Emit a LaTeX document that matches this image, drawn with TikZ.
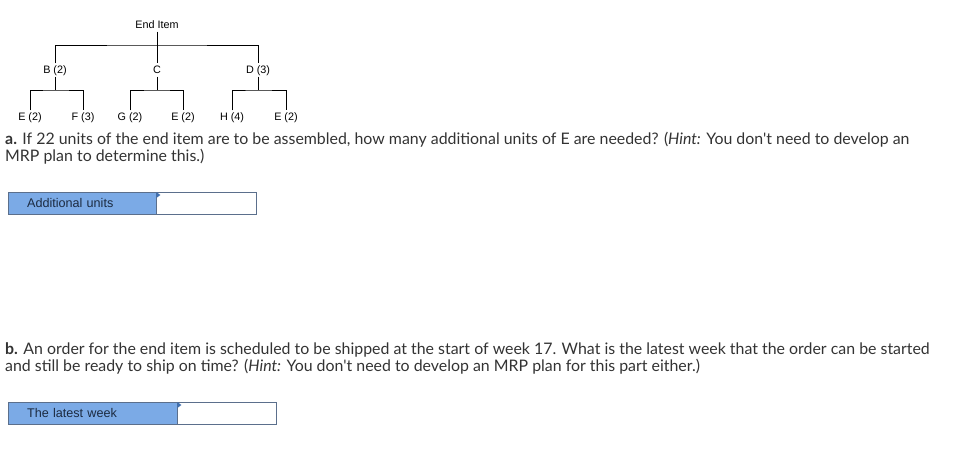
\documentclass[tikz,border=0pt]{standalone}
\usepackage{fontspec}
\setmainfont{Liberation Sans}
\newfontfamily\qfont{Lato}
\usepackage{xcolor}
\usetikzlibrary{positioning}
\definecolor{qgray}{HTML}{333333}
\definecolor{lblblue}{HTML}{7BAAE6}
\definecolor{boxline}{HTML}{5B6F8C}
\definecolor{lbltext}{HTML}{1C2B41}
\definecolor{markblue}{HTML}{3F6FB0}

\tikzset{
	part/.style={inner sep=1.5pt,text height=8pt,text depth=2pt,font=\fontsize{10.8}{12}\selectfont},
	question/.style={anchor=base west,inner sep=0pt,text=qgray,font=\qfont\fontsize{15.9}{17}\selectfont},
	fieldlbl/.style={draw=boxline,fill=lblblue,text=lbltext,anchor=north west,minimum height=22pt,inner xsep=19pt,inner ysep=0pt,align=left,font=\fontsize{12.6}{14}\selectfont},
	fieldans/.style={draw=boxline,fill=white,anchor=west,minimum height=22pt,inner sep=0pt}
}

\begin{document}
\begin{tikzpicture}[x=1pt,y=-1pt]
		\useasboundingbox (0,0) rectangle (964,463);
		% product structure tree
		\node[part] (end) at (157,25) {End Item};
			\coordinate (top) at (157,45);
		\node[part] (b) at (55,70) {B (2)};
		\node[part] (c) at (157,70) {C};
		\node[part] (d) at (258,70) {D (3)};
		\draw (end) -- (top);
		\draw (b.north) |- (top) -| (d.north);
		\draw (top) -- (c.north);
			\coordinate (bbar) at (55,90);
			\coordinate (cbar) at (157,90);
			\coordinate (dbar) at (258,90);
		\node[part] (e1) at (30,117) {E (2)};
		\node[part] (f) at (83,117) {F (3)};
		\node[part] (g) at (130,117) {G (2)};
		\node[part] (e2) at (183,117) {E (2)};
		\node[part] (h) at (232,117) {H (4)};
		\node[part] (e3) at (286,117) {E (2)};
		\draw (b) -- (bbar);
		\draw (e1.north) |- (bbar) -| (f.north);
		\draw (c) -- (cbar);
		\draw (g.north) |- (cbar) -| (e2.north);
		\draw (d) -- (dbar);
		\draw (h.north) |- (dbar) -| (e3.north);
		% part a
		\node[question] (qa1) at (5,144) {\textbf{a.} If 22 units of the end item are to be assembled, how many additional units of E are needed? (\textit{Hint:} You don't need to develop an};
		\node[question] (qa2) at (5,161) {MRP plan to determine this.)};
		\node[fieldlbl,text width=110pt] (addlbl) at (8,192) {Additional units};
		\node[fieldans,minimum width=100pt] (addans) at (addlbl.east) {};
			\fill[markblue] (addans.north west) -- ++(4,3) -- ++(-4,3) -- cycle;
		% part b
		\node[question] (qb1) at (5,354) {\textbf{b.} An order for the end item is scheduled to be shipped at the start of week 17. What is the latest week that the order can be started};
		\node[question] (qb2) at (5,371) {and still be ready to ship on time? (\textit{Hint:} You don't need to develop an MRP plan for this part either.)};
		\node[fieldlbl,text width=131pt] (weeklbl) at (8,402) {The latest week};
		\node[fieldans,minimum width=99pt] (weekans) at (weeklbl.east) {};
			\fill[markblue] (weekans.north west) -- ++(4,3) -- ++(-4,3) -- cycle;
	\end{tikzpicture}
\end{document}
